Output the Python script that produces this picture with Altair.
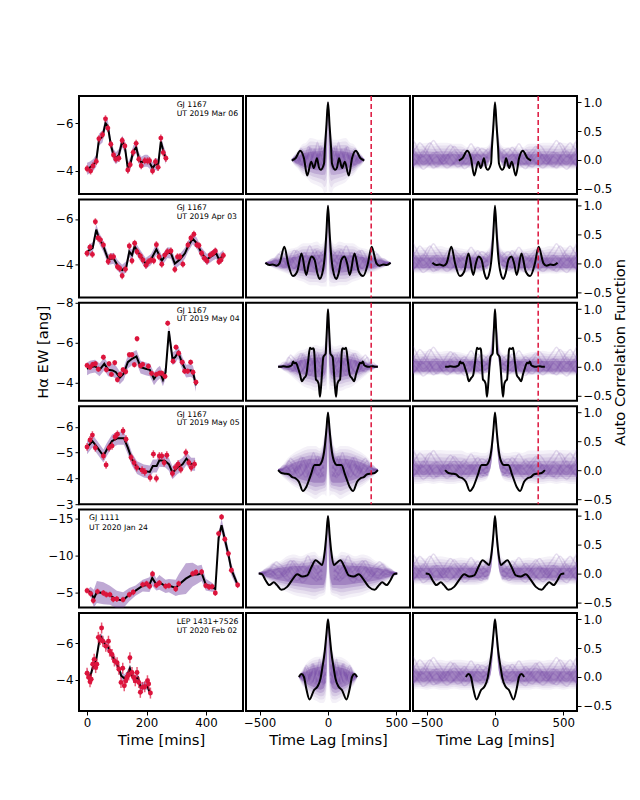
import altair as alt
import pandas as pd

PURPLE = "#663399"
RED = "#dc143c"

# Light curves: observed EW, error, GP mean
t1 = [0,12,20,31,40,52,62,70,80,89,97,107,118,127,137,145,155,165,174,182,194,203,210,220,230,239,248,256,265]
ew1 = [-4.08,-3.99,-4.2,-4.39,-5.34,-5.51,-6.18,-5.79,-5.11,-4.66,-4.48,-4.52,-5.27,-5.04,-4.03,-4.25,-4.77,-5.15,-4.48,-4.21,-4.42,-4.41,-4.42,-3.99,-4.38,-4.14,-5.37,-4.76,-4.52]
gt1 = [0,10,21,31,40,52,62,70,80,89,97,107,118,127,137,146,155,165,174,182,194,203,210,220,230,239,248,257,265]
gp1 = [-4.08,-4.14,-4.24,-4.42,-5.3,-5.44,-6.0,-5.86,-5.08,-4.66,-4.52,-4.66,-5.23,-5.01,-4.1,-4.31,-4.8,-4.99,-4.52,-4.34,-4.42,-4.42,-4.34,-4.1,-4.28,-4.24,-5.23,-4.8,-4.52]

t2 = [0,10,18,28,37,45,55,71,80,89,102,110,118,129,142,151,160,168,179,188,198,206,215,224,233,242,251,261,270,282,295,304,312,322,339,349,359,369,376,385,394,403,414,423,431,443,450,458]
ew2 = [-4.49,-4.76,-4.44,-5.88,-5.16,-5.08,-4.86,-4.13,-4.34,-4.34,-3.9,-3.82,-3.5,-3.79,-4.81,-4.16,-4.93,-4.56,-4.37,-4.19,-3.96,-4.12,-4.19,-4.16,-4.87,-4.34,-4.01,-4.41,-4.56,-4.59,-3.78,-4.34,-4.34,-4.01,-4.86,-5.16,-5.33,-4.86,-4.83,-4.49,-4.27,-4.15,-4.41,-4.49,-4.59,-4.12,-4.19,-4.39]
gt2 = [2,19,31,38,55,71,89,102,118,132,142,151,160,174,197,215,233,251,270,282,295,312,329,339,355,369,385,403,423,434,443,458]
gp2 = [-4.58,-4.73,-5.53,-5.23,-4.79,-4.22,-4.27,-3.97,-3.75,-3.9,-4.56,-4.41,-4.79,-4.49,-4.04,-4.22,-4.67,-4.16,-4.52,-4.49,-4.04,-4.22,-4.49,-4.79,-5.13,-4.93,-4.49,-4.22,-4.41,-4.49,-4.22,-4.39]

t3 = [0,10,19,28,38,55,65,74,82,93,102,111,121,130,142,151,159,168,180,187,206,217,233,243,251,262,271,289,299,308,320,328,338,348,356,366]
ew3 = [-4.87,-4.78,-4.92,-4.95,-4.68,-5.28,-4.65,-4.95,-4.42,-5.0,-4.15,-4.42,-4.65,-4.55,-5.4,-5.4,-4.9,-6.2,-4.85,-4.92,-4.83,-4.47,-4.42,-4.48,-4.48,-4.32,-6.98,-5.08,-5.78,-5.48,-5.03,-4.58,-4.58,-5.03,-4.53,-4.03]
gt3 = [0,10,27,42,58,71,86,97,110,123,137,151,166,180,197,211,225,236,245,255,264,275,287,296,306,321,333,349,356,366]
gp3 = [-4.7,-4.78,-4.83,-4.65,-4.95,-4.65,-4.62,-4.53,-4.25,-4.45,-5.03,-5.2,-5.32,-4.78,-4.7,-4.65,-4.2,-4.42,-4.53,-4.15,-4.53,-6.58,-5.2,-5.28,-5.53,-4.95,-4.58,-4.62,-4.53,-3.87]

t4 = [0,10,18,28,55,64,74,84,94,102,121,131,148,158,167,185,194,212,223,233,243,251,259,268,287,297,306,315,332,342,350,361]
ew4 = [-5.22,-5.49,-5.68,-5.19,-4.87,-4.52,-5.19,-5.26,-5.61,-5.71,-5.84,-5.52,-4.81,-4.61,-4.42,-4.32,-4.25,-4.03,-4.94,-4.0,-4.87,-4.87,-4.61,-4.9,-4.19,-4.42,-4.55,-4.35,-5.0,-4.61,-4.42,-4.55]
gt4 = [0,18,35,55,67,84,103,124,137,151,168,191,211,221,234,243,262,275,287,304,321,334,350,363]
gp4 = [-5.19,-5.45,-5.19,-4.87,-5.13,-5.45,-5.56,-5.56,-5.19,-4.74,-4.42,-4.29,-4.25,-4.48,-4.48,-4.7,-4.68,-4.55,-4.22,-4.42,-4.55,-4.77,-4.55,-4.55]

t5 = [0,12,21,35,55,65,77,88,100,121,142,155,187,200,210,220,233,243,264,275,298,308,355,366,385,399,410,420,431,442,452,463,475,485,506]
ew5 = [-5.2,-4.8,-3.85,-5.07,-4.89,-4.66,-4.66,-4.03,-4.07,-3.98,-4.66,-4.98,-6.02,-6.15,-5.79,-7.47,-5.93,-6.24,-5.79,-5.88,-5.43,-6.15,-7.51,-7.69,-7.74,-5.88,-5.7,-5.75,-4.89,-12.94,-15.2,-12.17,-10.23,-7.96,-5.97]
gt5 = [0,12,23,33,55,77,100,121,142,163,187,210,219,233,243,264,275,298,308,332,355,372,385,399,420,431,442,452,463,475,485,506]
gp5 = [-5.2,-5.02,-4.12,-5.02,-4.84,-4.57,-3.98,-3.89,-4.66,-5.2,-5.88,-6.02,-6.92,-6.02,-6.33,-5.79,-5.88,-5.57,-6.02,-6.83,-7.38,-7.38,-7.6,-6.02,-5.66,-5.43,-12.35,-14.07,-12.17,-10.09,-8.05,-5.97]
band5 = [0.1,0.7,1.2,1.5,1.5,1.3,1.2,1.1,0.9,0.7,0.8,1.0,1.1,0.8,1.0,0.9,0.9,1.1,1.4,2.1,1.6,1.2,1.1,0.8,0.6,0.4,0.7,0.9,0.9,0.8,0.8,0.5]

t6 = [0,6,10,14,19,24,29,33,38,44,49,53,63,72,76,84,92,101,107,114,120,125,130,134,140,144,151,157,162,168,174,179,186,194,203,207,213]
ew6 = [-4.36,-4.13,-3.89,-4.04,-4.85,-5.12,-4.67,-4.85,-6.32,-6.2,-6.83,-6.11,-5.84,-6.11,-5.57,-5.39,-5.03,-4.94,-4.58,-3.86,-4.63,-3.68,-3.95,-4.13,-4.27,-5.21,-4.4,-4.13,-3.95,-4.4,-3.86,-3.32,-3.59,-3.62,-3.95,-3.77,-3.28]
gt6 = [0,10,19,31,42,47,61,72,84,95,106,115,125,134,144,151,160,171,180,191,202,211]
gp6 = [-4.4,-4.13,-4.67,-5.12,-6.2,-6.34,-5.93,-5.75,-5.3,-5.03,-4.67,-4.22,-4.09,-4.22,-4.63,-4.22,-4.04,-4.13,-3.59,-3.68,-3.68,-3.32]

lc_rows = [
    dict(t=t1, ew=ew1, gt=gt1, gp=gp1, err=0.15, band=0.25, dom=[-3.02, -7.14], ticks=[-6, -4],
         star="GJ 1167", date="UT 2019 Mar 06", tx=301, ty=[-6.76, -6.38]),
    dict(t=t2, ew=ew2, gt=gt2, gp=gp2, err=0.15, band=0.24, dom=[-2.55, -6.86], ticks=[-6, -4],
         star="GJ 1167", date="UT 2019 Apr 03", tx=301, ty=[-6.5, -6.1]),
    dict(t=t3, ew=ew3, gt=gt3, gp=gp3, err=0.13, band=0.32, dom=[-3.1, -8.0], ticks=[-8, -6, -4],
         star="GJ 1167", date="UT 2019 May 04", tx=301, ty=[-7.6, -7.2]),
    dict(t=t4, ew=ew4, gt=gt4, gp=gp4, err=0.15, band=0.25, dom=[-3.0, -6.8], ticks=[-6, -5, -4, -3],
         star="GJ 1167", date="UT 2019 May 05", tx=301, ty=[-6.44, -6.13]),
    dict(t=t5, ew=ew5, gt=gt5, gp=gp5, err=0.4, band=band5, dom=[-2.9, -16.2], ticks=[-15, -10, -5],
         star="GJ 1111", date="UT 2020 Jan 24", tx=7, ty=[-15.1, -13.76]),
    dict(t=t6, ew=ew6, gt=gt6, gp=gp6, err=0.3, band=0.22, dom=[-2.3, -7.65], ticks=[-6, -4],
         star="LEP 1431+7526", date="UT 2020 Feb 02", tx=301, ty=[-7.17, -6.69]),
]

# ACF of the data, positive lags
lag1 = [0,12,22,29,54,66,81,103,123,152,176,203,238,265]
acf1 = [1.0,.58,.23,-.06,-.17,-.13,.03,-.14,-.03,-.27,.03,.16,.03,-.01]
lag2 = [0,12,22,37,61,78,98,120,140,159,194,225,257,292,319,355,377,404,429,458]
acf2 = [1.0,.52,.17,-.12,-.27,-.17,.06,.12,0,-.2,.17,-.14,-.22,0,.29,0,-.04,-.02,-.03,.01]
lag3 = [0,6,12,17,34,45,51,59,68,76,88,103,108,120,132,145,160,176,191,205,218,235,245,255,265,279,300,328,345,365]
acf3 = [1.0,.75,.45,.23,.17,-.15,-.35,-.52,-.3,-.25,-.22,.3,.32,.31,.33,.1,-.15,-.2,-.25,-.13,-.03,.07,.06,.09,.03,.01,0,.01,0,0]
lag4 = [0,12,24,42,66,98,127,159,184,213,238,262,287,316,341,365]
acf4 = [1.0,.69,.4,.17,.09,.09,-.09,-.29,-.36,-.2,-.14,-.12,-.07,-.06,-.05,0]
lag5 = [0,12,24,42,61,91,120,152,189,225,262,299,341,373,397,429,458,483,507]
acf5 = [1.0,.67,.38,.15,.18,.23,.12,-.03,-.05,-.01,-.11,-.23,-.28,-.2,-.15,-.2,-.11,-.01,0]
lag6 = [0,12,24,42,54,78,103,135,159,176,194,213]
acf6 = [1.0,.73,.44,.15,-.02,-.17,-.23,-.39,-.2,0,.05,0]

# Middle column: outer and inner extent of the simulated ACFs
mid_rows = [
    dict(lag=[0,3,6,12,25,40,70,100,130,160,190,220,250,265],
         hi=[1,1,.95,.75,.45,.35,.35,.37,.38,.3,.27,.17,.08,.02],
         lo=[1,.3,-.55,-.55,-.58,-.5,-.45,-.42,-.38,-.3,-.25,-.15,-.08,-.02],
         ihi=[1,1,.9,.6,.25,.16,.15,.15,.14,.13,.11,.08,.04,.01],
         ilo=[1,.8,.3,0,-.15,-.18,-.18,-.17,-.15,-.13,-.11,-.07,-.03,-.01]),
    dict(lag=[0,3,6,12,25,50,80,130,180,230,280,330,380,430,458],
         hi=[1,1,.95,.7,.4,.33,.38,.35,.35,.28,.25,.2,.13,.06,.01],
         lo=[1,.3,-.3,-.4,-.4,-.4,-.38,-.38,-.32,-.28,-.2,-.15,-.1,-.05,-.01],
         ihi=[1,1,.9,.55,.22,.15,.15,.14,.14,.12,.1,.09,.06,.03,.01],
         ilo=[1,.8,.3,0,-.12,-.16,-.16,-.15,-.13,-.11,-.09,-.07,-.05,-.02,-.01]),
    dict(lag=[0,3,6,12,25,50,90,130,170,210,250,290,330,365],
         hi=[1,1,.95,.7,.4,.35,.38,.35,.3,.28,.2,.12,.05,.01],
         lo=[1,.3,-.3,-.4,-.4,-.38,-.42,-.38,-.35,-.28,-.2,-.12,-.06,-.01],
         ihi=[1,1,.9,.55,.22,.16,.16,.15,.13,.11,.08,.05,.02,.01],
         ilo=[1,.8,.3,0,-.14,-.18,-.18,-.16,-.14,-.11,-.08,-.05,-.02,-.01]),
    dict(lag=[0,3,8,12,25,40,60,90,130,170,210,250,290,330,365],
         hi=[1,1,.92,.85,.65,.45,.38,.42,.42,.4,.35,.3,.22,.1,.01],
         lo=[1,.05,-.3,-.45,-.42,-.42,-.45,-.5,-.45,-.4,-.33,-.28,-.2,-.12,-.02],
         ihi=[1,1,.88,.78,.5,.28,.2,.2,.2,.18,.16,.13,.09,.04,.01],
         ilo=[1,.6,.1,-.05,-.2,-.22,-.22,-.22,-.2,-.18,-.15,-.12,-.09,-.05,-.01]),
    dict(lag=[0,4,10,20,35,60,100,150,200,250,300,350,400,440,480,506],
         hi=[1,1,.8,.5,.35,.3,.38,.35,.3,.33,.3,.22,.2,.13,.05,.01],
         lo=[1,.15,-.1,-.35,-.38,-.4,-.45,-.42,-.4,-.37,-.32,-.27,-.2,-.13,-.06,-.01],
         ihi=[1,1,.72,.36,.2,.14,.15,.14,.13,.13,.12,.1,.08,.06,.03,.01],
         ilo=[1,.6,.1,-.1,-.2,-.2,-.2,-.19,-.17,-.16,-.14,-.12,-.09,-.06,-.03,-.01]),
    dict(lag=[0,4,10,20,35,55,80,110,140,170,195,213],
         hi=[1,1,.85,.65,.45,.35,.35,.33,.28,.2,.1,.02],
         lo=[1,.1,-.2,-.4,-.45,-.45,-.42,-.38,-.3,-.2,-.12,-.02],
         ihi=[1,1,.8,.55,.3,.18,.17,.15,.13,.09,.05,.01],
         ilo=[1,.6,.15,-.1,-.2,-.22,-.2,-.17,-.14,-.09,-.05,-.01]),
]

# Right column: same extents out to the edge of the panel
wide_lag = [0,4,8,12,16,20,25,30,40,50,70,100,150,200,250,300,350,400,450,500,550,600]
wide_hi = [
    [1,.96,.88,.8,.7,.6,.48,.38,.28,.25,.22,.22,.24,.22,.28,.28,.3,.3,.28,.3,.28,.33],
    [1,.96,.88,.8,.7,.6,.48,.38,.28,.25,.22,.22,.24,.24,.26,.28,.27,.3,.28,.28,.27,.3],
    [1,.96,.88,.8,.7,.6,.48,.38,.28,.25,.22,.22,.24,.22,.25,.26,.28,.26,.27,.28,.26,.3],
    [1,.98,.92,.86,.78,.7,.6,.5,.38,.33,.3,.3,.32,.3,.34,.34,.34,.35,.34,.35,.34,.37],
    [1,.97,.9,.82,.74,.66,.55,.45,.33,.28,.25,.22,.25,.26,.28,.26,.28,.3,.28,.26,.28,.3],
    [1,.98,.92,.85,.78,.7,.6,.5,.38,.32,.28,.26,.27,.28,.3,.3,.28,.3,.28,.3,.28,.32],
]
wide_lo = [
    [1,.85,.65,.45,.3,.2,.1,.03,-.06,-.1,-.12,-.14,-.16,-.14,-.16,-.15,-.16,-.15,-.16,-.14,-.16,-.15],
    [1,.85,.65,.45,.3,.2,.1,.03,-.06,-.1,-.12,-.15,-.17,-.16,-.18,-.17,-.18,-.17,-.18,-.16,-.17,-.17],
    [1,.85,.65,.45,.3,.2,.1,.03,-.06,-.1,-.12,-.14,-.14,-.14,-.15,-.14,-.15,-.14,-.15,-.14,-.15,-.15],
    [1,.9,.72,.55,.4,.3,.18,.08,-.05,-.12,-.18,-.2,-.22,-.24,-.22,-.24,-.24,-.22,-.24,-.22,-.24,-.24],
    [1,.88,.7,.52,.38,.27,.15,.05,-.06,-.12,-.15,-.18,-.2,-.2,-.2,-.19,-.2,-.18,-.2,-.2,-.18,-.2],
    [1,.9,.72,.55,.42,.3,.18,.08,-.06,-.13,-.17,-.2,-.22,-.22,-.22,-.2,-.22,-.22,-.2,-.22,-.2,-.22],
]
inner_hi = [1,.94,.82,.7,.58,.46,.34,.24,.15,.12,.1,.1,.1,.1,.1,.1,.1,.1,.1,.1,.1,.1]
inner_lo = [1,.88,.72,.55,.4,.27,.15,.07,0,-.04,-.06,-.07,-.08,-.08,-.08,-.08,-.08,-.08,-.08,-.08,-.08,-.08]

# A few individual simulated ACFs
draw_lag = [50,75,100,125,150,175,200,225,250,275,300,325,350,375,400,425,450,475,500,525,550,575,600]
draw_taper = [1,1,1,1,1,1,.95,.95,.9,.9,.85,.8,.75,.7,.65,.6,.55,.5,.4,.3,.2,.1,.03]
draws = [
    [.05,.02,-.04,-.08,-.05,.02,.08,.12,.07,0,-.06,-.1,-.05,.03,.1,.14,.1,.02,-.05,-.08,-.02,.06,.12],
    [.12,.18,.2,.14,.06,-.02,-.08,-.05,.03,.12,.2,.26,.2,.1,.02,-.05,-.03,.06,.16,.24,.3,.22,.15],
    [-.06,-.1,-.08,-.02,.04,.1,.06,-.02,-.1,-.12,-.06,.02,.1,.06,-.03,-.1,-.14,-.08,0,.06,.02,-.06,-.1],
    [.02,.08,.14,.22,.16,.08,.02,.05,.12,.18,.24,.16,.06,-.02,.04,.12,.22,.3,.24,.12,.04,.1,.2],
    [-.02,-.06,-.12,-.08,0,.06,.12,.18,.12,.04,-.04,-.1,-.14,-.1,-.02,.06,.02,-.06,-.12,-.16,-.1,-.02,.04],
    [.2,.14,.06,.1,.2,.28,.2,.1,.04,.1,.16,.1,.02,.08,.18,.26,.34,.26,.14,.06,.12,.24,.36],
    [.08,.03,0,.05,.1,.04,-.04,-.08,-.03,.05,.11,.06,-.02,-.07,-.02,.07,.13,.08,0,-.04,.04,.12,.08],
    [-.1,-.05,.04,.1,.03,-.05,-.12,-.15,-.08,-.02,.05,.12,.08,0,-.08,-.12,-.06,.04,.1,.16,.08,-.03,-.12],
]

acf_rows = [(lag1, acf1), (lag2, acf2), (lag3, acf3), (lag4, acf4), (lag5, acf5), (lag6, acf6)]
period = 316
has_period = [True, True, True, True, False, False]
acf_dom = [-0.59, 1.11]
acf_ticks = [-0.5, 0, 0.5, 1.0]
lag_ticks = [-500, 0, 500]
time_ticks = [0, 200, 400]
cloud_steps = [0, 0.25, 0.5, 0.75, 1]
cloud_alpha = [0.07, 0.09, 0.13, 0.2, 0.32]


def mirror(xs, ys):
    return [-x for x in xs[:0:-1]] + list(xs), list(ys[:0:-1]) + list(ys)


def x_axis(show, title, ticks):
    if not show:
        return None
    return alt.Axis(title=title, values=ticks, format="d", titlePadding=4)


def lc_panel(i, r):
    bottom = i == 5
    x = alt.X("t:Q", scale=alt.Scale(domain=[-27, 524], nice=False),
              axis=x_axis(bottom, "Time [mins]", time_ticks))
    if i == 2:
        ax = alt.Axis(title="Hα EW [ang]", values=r["ticks"], format="d", titleX=-29, titleY=49)
    else:
        ax = alt.Axis(title=None, values=r["ticks"], format="d")
    y_scale = alt.Scale(domain=r["dom"], nice=False, zero=False)
    y = alt.Y("v:Q", scale=y_scale, axis=ax)
    y_lo = alt.Y("lo:Q", scale=y_scale, axis=ax)

    gp = pd.DataFrame({"t": r["gt"], "v": r["gp"], "band": r["band"]})
    gp["lo"] = gp.v - gp.band
    gp["hi"] = gp.v + gp.band
    obs = pd.DataFrame({"t": r["t"], "v": r["ew"]})
    obs["lo"] = obs.v - r["err"]
    obs["hi"] = obs.v + r["err"]
    note = pd.DataFrame({"t": [r["tx"], r["tx"]], "v": r["ty"], "s": [r["star"], r["date"]]})

    band = alt.Chart(gp).mark_area(color=PURPLE, opacity=0.42, clip=True).encode(x=x, y=y_lo, y2="hi:Q")
    line = alt.Chart(gp).mark_line(color="black", strokeWidth=2).encode(x=x, y=y)
    bars = alt.Chart(obs).mark_rule(color=RED, strokeWidth=1.5, opacity=0.7).encode(x=x, y=y_lo, y2="hi:Q")
    pts = alt.Chart(obs).mark_circle(color=RED, size=24, opacity=1).encode(x=x, y=y)
    text = alt.Chart(note).mark_text(align="left", fontSize=7.7, color="black").encode(x=x, y=y, text="s:N")
    return alt.layer(band, line, bars, pts, text).properties(width=164, height=98)


def cloud_layers(xs, lo, hi, ilo, ihi, x, y_scale, ax):
    # graded bands from the outer extent in to the dense core
    out = []
    for w, a in zip(cloud_steps, cloud_alpha):
        blo = [p + (q - p) * w for p, q in zip(lo, ilo)]
        bhi = [p + (q - p) * w for p, q in zip(hi, ihi)]
        mx, mlo = mirror(xs, blo)
        _, mhi = mirror(xs, bhi)
        df = pd.DataFrame({"l": mx, "lo": mlo, "hi": mhi})
        out.append(alt.Chart(df).mark_area(color=PURPLE, opacity=a, clip=True, interpolate="monotone").encode(
            x=x, y=alt.Y("lo:Q", scale=y_scale, axis=ax), y2="hi:Q"))
    return out


def draw_layer(extent, gain, tapered, x, y_scale, ax):
    rows = []
    for k, d in enumerate(draws):
        for l, v, tp in zip(draw_lag, d, draw_taper):
            lag = l * extent / 600
            val = v * gain * (tp if tapered else 1)
            rows.append({"l": lag, "v": val, "d": "%d+" % k})
            rows.append({"l": -lag, "v": val, "d": "%d-" % k})
    return alt.Chart(pd.DataFrame(rows)).mark_line(color=PURPLE, opacity=0.16, strokeWidth=1.5, clip=True, interpolate="monotone").encode(
        x=x, y=alt.Y("v:Q", scale=y_scale, axis=ax), detail="d:N")


def acf_panel(i, col):
    bottom = i == 5
    x = alt.X("l:Q", scale=alt.Scale(domain=[-600, 600], nice=False),
              axis=x_axis(bottom, "Time Lag [mins]", lag_ticks))
    y_scale = alt.Scale(domain=acf_dom, nice=False, zero=False)
    if col == 1:
        ax = None
    elif i == 2:
        ax = alt.Axis(title="Auto Correlation Function", values=acf_ticks, format=".1f", orient="right",
                      titleX=50, titleY=49, titleAngle=-90)
    else:
        ax = alt.Axis(title=None, values=acf_ticks, format=".1f", orient="right")

    if col == 1:
        m = mid_rows[i]
        layers = cloud_layers(m["lag"], m["lo"], m["hi"], m["ilo"], m["ihi"], x, y_scale, ax)
        layers.append(draw_layer(m["lag"][-1], 1.1, True, x, y_scale, ax))
    else:
        layers = cloud_layers(wide_lag, wide_lo[i], wide_hi[i], inner_lo, inner_hi, x, y_scale, ax)
        layers.append(draw_layer(600, 1.0, False, x, y_scale, ax))

    lx, lv = mirror(*acf_rows[i])
    layers.append(alt.Chart(pd.DataFrame({"l": lx, "v": lv})).mark_line(color="black", strokeWidth=2, interpolate="monotone").encode(
        x=x, y=alt.Y("v:Q", scale=y_scale, axis=ax)))
    if has_period[i]:
        layers.append(alt.Chart(pd.DataFrame({"l": [period]})).mark_rule(color=RED, strokeWidth=1.5, strokeDash=[5, 3]).encode(x=x))
    return alt.layer(*layers).properties(width=164, height=98)


panels = []
for i, r in enumerate(lc_rows):
    panels += [lc_panel(i, r), acf_panel(i, 1), acf_panel(i, 2)]

chart = alt.concat(*panels, columns=3, spacing={"row": 5.4, "column": 3}, bounds="flush").properties(
    padding={"left": 25, "top": 86, "right": 0, "bottom": 5}
).configure_view(stroke="black", strokeWidth=2).configure_axis(
    grid=False, domain=False, tickColor="black", tickSize=4, tickWidth=1,
    labelFont="DejaVu Sans", titleFont="DejaVu Sans", labelFontSize=11.8, titleFontSize=14.7,
    labelColor="black", titleColor="black", titleFontWeight="normal",
).configure_text(font="DejaVu Sans")

chart.save("out.html", embed_options={"renderer": "svg", "actions": False})
